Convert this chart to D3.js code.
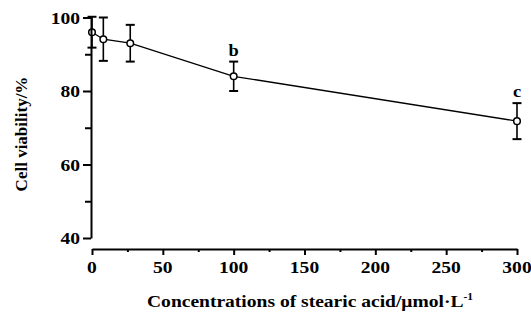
<!DOCTYPE html>
<html lang="en">
<head>
    <meta charset="UTF-8">
    <title>Cell viability</title>
    <style>
        body {
            margin: 0;
            padding: 0;
            background: #fff;
        }

        text {
            font-family: "Liberation Serif", "Times New Roman", serif;
            font-weight: bold;
            fill: #000;
        }
    </style>
</head>
<body>
<svg id="chart"></svg>

<script src="https://d3js.org/d3.v7.min.js"></script>
<script>
    // data
    var concentrations = [0, 8, 27, 100, 300];
    var viability = [96, 94.1, 93, 84, 71.8];
    var errors = [4.2, 5.9, 5, 4, 4.9];
    var letters = ["", "", "", "b", "c"];

    var xMajor = [0, 50, 100, 150, 200, 250, 300];
    var xMinor = [25, 75, 125, 175, 225, 275];
    var yMajor = [40, 60, 80, 100];
    var yMinor = [50, 70, 90];

    var width = 531, height = 315;
    var stretch = 1.15; // the figure's text is a bit wide

    var svg = d3.select("#chart")
        .attr("width", width)
        .attr("height", height);

    svg.append("rect")
        .attr("width", width)
        .attr("height", height)
        .attr("fill", "#fff");

    var x = d3.scaleLinear().domain([0, 300]).range([92, 517]);
    var y = d3.scaleLinear().domain([40, 100]).range([238, 17.5]);

    var axisX = 91, axisY = 249;

    var points = concentrations.map(function (c, i) {
        return {x: c, y: viability[i], e: errors[i], l: letters[i]};
    });

    // connecting line
    svg.append("path")
        .datum(points)
        .attr("fill", "none")
        .attr("stroke", "#000")
        .attr("stroke-width", 1.3)
        .attr("d", d3.line().x(d => x(d.x)).y(d => y(d.y)));

    // error bars
    var bars = svg.append("g")
        .attr("stroke", "#000");

    bars.selectAll(".stem").data(points).enter()
        .append("line")
        .attr("stroke-width", 1.6)
        .attr("x1", d => x(d.x)).attr("x2", d => x(d.x))
        .attr("y1", d => y(d.y + d.e)).attr("y2", d => y(d.y - d.e));

    bars.selectAll(".capTop").data(points).enter()
        .append("line")
        .attr("stroke-width", 2)
        .attr("x1", d => x(d.x) - 4.5).attr("x2", d => x(d.x) + 4.5)
        .attr("y1", d => y(d.y + d.e)).attr("y2", d => y(d.y + d.e));

    bars.selectAll(".capBot").data(points).enter()
        .append("line")
        .attr("stroke-width", 2)
        .attr("x1", d => x(d.x) - 4.5).attr("x2", d => x(d.x) + 4.5)
        .attr("y1", d => y(d.y - d.e)).attr("y2", d => y(d.y - d.e));

    // markers
    svg.selectAll(".pt").data(points).enter()
        .append("circle")
        .attr("cx", d => x(d.x))
        .attr("cy", d => y(d.y))
        .attr("r", 3.3)
        .attr("fill", "#fff")
        .attr("stroke", "#000")
        .attr("stroke-width", 1.5);

    // significance letters
    svg.selectAll(".letter").data(points.filter(d => d.l)).enter()
        .append("text")
        .attr("transform", d => "translate(" + x(d.x) + "," + (y(d.y + d.e) - 6) + ") scale(" + stretch + ",1)")
        .attr("text-anchor", "middle")
        .style("font-size", "16px")
        .text(d => d.l);

    // y axis
    var gy = svg.append("g")
        .attr("transform", "translate(" + axisX + ",0)")
        .call(d3.axisLeft(y).tickValues(yMajor).tickSize(8).tickSizeOuter(0).tickFormat(""));
    svg.append("g")
        .attr("transform", "translate(" + axisX + ",0)")
        .call(d3.axisLeft(y).tickValues(yMinor).tickSize(6).tickSizeOuter(0).tickFormat(""))
        .select(".domain").remove();

    // x axis
    var gx = svg.append("g")
        .attr("transform", "translate(0," + axisY + ")")
        .call(d3.axisBottom(x).tickValues(xMajor).tickSize(6).tickSizeOuter(0).tickFormat(""));
    svg.append("g")
        .attr("transform", "translate(0," + axisY + ")")
        .call(d3.axisBottom(x).tickValues(xMinor).tickSize(3).tickSizeOuter(0).tickFormat(""))
        .select(".domain").remove();

    svg.selectAll(".domain, .tick line")
        .attr("stroke", "#000")
        .attr("stroke-width", 2);

    // tick labels
    svg.selectAll(".ylab").data(yMajor).enter()
        .append("text")
        .attr("transform", d => "translate(80," + (y(d) + 6) + ") scale(" + stretch + ",1)")
        .attr("text-anchor", "end")
        .style("font-size", "17px")
        .text(d => d);

    svg.selectAll(".xlab").data(xMajor).enter()
        .append("text")
        .attr("transform", d => "translate(" + x(d) + ",273) scale(" + stretch + ",1)")
        .attr("text-anchor", "middle")
        .style("font-size", "17px")
        .text(d => d);

    // axis titles
    svg.append("text")
        .attr("transform", "translate(27,134) rotate(-90)")
        .attr("text-anchor", "middle")
        .style("font-size", "17px")
        .text("Cell viability/%");

    var xt = svg.append("text")
        .attr("transform", "translate(310,307) scale(" + stretch + ",1)")
        .attr("text-anchor", "middle")
        .style("font-size", "17px");
    xt.append("tspan").text("Concentrations of stearic acid/\u03bcmol\u00b7L");
    xt.append("tspan").attr("dy", -7).style("font-size", "10px").text("-1");
</script>
</body>
</html>
